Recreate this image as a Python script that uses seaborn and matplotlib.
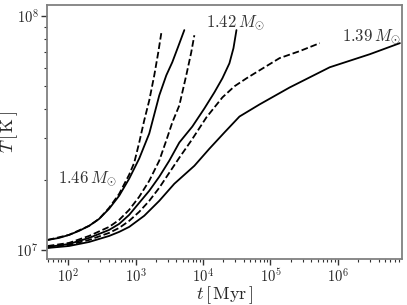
import numpy as np
import pandas as pd
import matplotlib
matplotlib.use("Agg")
import matplotlib.pyplot as plt
import seaborn as sns

# ============================
# DATOS
# ============================

t_146_solid = [50, 73.5, 103.5, 145.6, 205, 289, 406, 573, 806, 1135, 1599, 2250, 2860, 3510, 4310, 5290]
T_146_solid = [1.104e7, 1.126e7, 1.160e7, 1.207e7, 1.268e7, 1.358e7, 1.500e7, 1.706e7, 2.018e7,
               2.46e7, 3.148e7, 4.58e7, 5.58e7, 6.35e7, 7.43e7, 8.71e7]

t_146_dash = [50, 103.5, 205, 289, 406, 573, 806, 957, 1135, 1346, 1599, 1897, 2175, 2410]
T_146_dash = [1.104e7, 1.160e7, 1.268e7, 1.358e7, 1.514e7, 1.738e7, 2.10e7, 2.36e7, 2.88e7,
              3.58e7, 4.36e7, 5.58e7, 7.0e7, 8.45e7]

t_142_solid = [50, 103.5, 205, 406, 573, 806, 1135, 1599, 2250, 3170, 4460, 6950, 10500, 14770,
               19400, 24640, 28300, 31340]
T_142_solid = [1.030e7, 1.061e7, 1.126e7, 1.218e7, 1.293e7, 1.413e7, 1.591e7, 1.791e7, 2.057e7,
               2.41e7, 2.88e7, 3.37e7, 4.03e7, 4.72e7, 5.42e7, 6.28e7, 7.29e7, 8.71e7]

t_142_dash = [50, 103.5, 205, 406, 573, 806, 1135, 1599, 2250, 2860, 3510, 4460, 5650, 6700, 7450]
T_142_dash = [1.040e7, 1.072e7, 1.148e7, 1.255e7, 1.345e7, 1.485e7, 1.689e7, 1.977e7, 2.41e7,
              2.94e7, 3.51e7, 4.15e7, 5.58e7, 7.0e7, 8.28e7]

t_139_solid = [50, 103.5, 205, 406, 573, 806, 1346, 2250, 3760, 7450, 12450, 20800, 34750, 68900,
               192000, 755000, 2.97e6, 8.28e6]
T_139_solid = [1.020e7, 1.040e7, 1.082e7, 1.148e7, 1.195e7, 1.255e7, 1.400e7, 1.622e7, 1.919e7,
               2.29e7, 2.71e7, 3.18e7, 3.72e7, 4.19e7, 4.95e7, 6.04e7, 6.87e7, 7.66e7]

t_139_dash = [50, 103.5, 205, 406, 573, 806, 1135, 1599, 2250, 3170, 4460, 6730, 11250, 19400,
              29300, 44200, 81700, 136500, 270500, 537000]
T_139_dash = [1.025e7, 1.051e7, 1.104e7, 1.183e7, 1.243e7, 1.332e7, 1.456e7, 1.622e7, 1.845e7,
              2.14e7, 2.48e7, 2.94e7, 3.69e7, 4.49e7, 5.01e7, 5.42e7, 6.04e7, 6.61e7, 7.08e7, 7.66e7]

etiquetas = [r"$1.46\,M_{\odot}$", r"$1.42\,M_{\odot}$", r"$1.39\,M_{\odot}$"]
pos_etiquetas = [(72, 2.02e7), (11200, 9.4e7), (1.14e6, 8.2e7)]

# ============================
# FIGURA
# ============================

sns.set_style("ticks")
plt.rcParams["font.family"] = "serif"
plt.rcParams["font.serif"] = ["cmr10", "DejaVu Serif"]
plt.rcParams["mathtext.fontset"] = "cm"
plt.rcParams["axes.formatter.use_mathtext"] = True

fig = plt.figure(figsize=(4.07, 3.05), dpi=100)
ax = fig.add_axes([0.1155, 0.1508, 0.8722, 0.8328])

curvas = [
    (t_146_solid, T_146_solid, "-"),
    (t_146_dash, T_146_dash, "--"),
    (t_142_solid, T_142_solid, "-"),
    (t_142_dash, T_142_dash, "--"),
    (t_139_solid, T_139_solid, "-"),
    (t_139_dash, T_139_dash, "--"),
]

for t, T, ls in curvas:
    df = pd.DataFrame({"t": t, "T": T})
    sns.lineplot(data=df, x="t", y="T", ax=ax, color="black", linestyle=ls, linewidth=1.3)

ax.set_xscale("log")
ax.set_yscale("log")
ax.set_xlim(48.8, 8.9e6)
ax.set_ylim(9.15e6, 1.115e8)

for txt, (x, y) in zip(etiquetas, pos_etiquetas):
    ax.text(x, y, txt, fontsize=12, color="#333333", va="center", ha="left")

ax.set_xlabel(r"$t\,[\,\mathrm{Myr}\,]$", fontsize=13)
ax.set_ylabel(r"$T\,[\,\mathrm{K}\,]$", fontsize=13)
ax.xaxis.set_label_coords(0.5, -0.1)
ax.yaxis.set_label_coords(-0.075, 0.5)

for s in ax.spines.values():
    s.set_color("#808080")
    s.set_linewidth(1.3)
ax.tick_params(axis="both", which="major", labelsize=10.5, length=4, width=1, color="#333333", pad=2)
ax.tick_params(axis="both", which="minor", length=2, width=0.8, color="#333333")

fig.savefig("out.png", dpi=100)
